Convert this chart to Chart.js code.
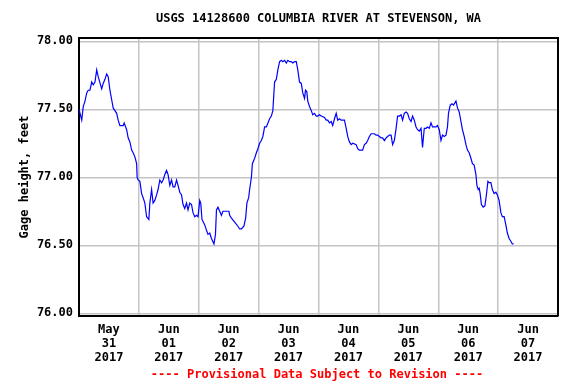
<!DOCTYPE html>
<html>
<head>
<meta charset="utf-8">
<script src="https://cdn.jsdelivr.net/npm/chart.js@4/dist/chart.umd.min.js"></script>
<style>
  body { margin: 0; background: #fff; }
  canvas { display: block; }
</style>
</head>
<body>
<canvas id="gageChart" width="576" height="384"></canvas>
<script>
// hours since 2017-05-31 00:00 and gage height (ft)
const hours = [
  0.0, 1.1, 1.7, 2.4, 3.1, 3.7, 4.4, 5.1, 5.7, 6.4, 7.1, 7.7, 9.1, 9.7, 10.4, 11.1, 11.7, 12.4, 13.1, 13.7,
  15.1, 15.7, 16.4, 17.7, 18.1, 19.1, 19.7, 20.4, 21.1, 21.7, 22.4, 23.1, 23.3, 23.7, 24.4, 25.1, 25.7, 26.4, 27.1, 28.0,
  28.4, 29.1, 29.7, 30.4, 31.1, 31.7, 32.4, 33.1, 33.7, 34.4, 35.1, 35.7, 36.4, 37.1, 37.7, 38.4, 39.1, 39.7, 40.4, 41.1,
  41.7, 42.4, 43.1, 43.7, 44.4, 45.1, 45.7, 46.4, 47.1, 47.7, 48.4, 48.8, 49.3, 50.4, 51.1, 51.7, 52.4, 53.1, 54.1, 54.7,
  55.1, 55.7, 56.4, 57.1, 57.7, 59.1, 60.1, 60.4, 61.1, 62.4, 63.7, 64.4, 65.1, 66.1, 66.8, 67.3, 68.0, 68.4, 69.1, 69.5,
  70.4, 71.1, 71.7, 72.4, 73.1, 73.7, 74.4, 75.1, 76.4, 77.1, 77.7, 78.4, 79.1, 79.7, 80.4, 81.1, 81.7, 82.4, 83.1, 83.7,
  84.4, 85.1, 85.7, 86.4, 87.1, 87.7, 88.4, 89.1, 89.7, 90.4, 90.8, 91.3, 91.7, 92.4, 93.1, 93.7, 94.4, 95.1, 95.7, 96.4,
  97.1, 98.4, 99.1, 99.7, 100.4, 101.1, 101.7, 102.4, 103.1, 103.7, 104.4, 105.1, 106.4, 107.1, 107.7, 108.4, 109.1, 109.7, 111.1, 111.7,
  112.4, 113.1, 113.7, 114.4, 115.1, 115.7, 116.4, 117.1, 118.4, 119.1, 119.7, 120.4, 121.1, 121.7, 122.4, 123.1, 123.7, 124.4, 125.1, 125.7,
  126.4, 127.1, 127.7, 128.4, 129.1, 129.7, 130.4, 131.1, 131.7, 132.4, 133.1, 133.7, 134.4, 135.1, 135.7, 136.4, 137.1, 137.7, 138.4, 139.1,
  139.7, 140.4, 141.1, 141.7, 143.1, 143.7, 144.4, 145.1, 145.7, 146.4, 147.1, 147.7, 148.1, 148.8, 149.5, 150.1, 151.1, 151.7, 152.4, 153.1,
  153.7, 154.4, 155.1, 155.7, 156.4, 157.1, 157.7, 158.4, 159.1, 159.5, 160.0, 160.4, 160.8, 161.3, 162.0, 162.7, 163.3, 163.9, 164.4, 165.1,
  165.7, 166.4, 167.1, 167.7, 168.4, 169.1, 169.7, 170.4, 171.1, 171.7, 172.4, 173.1, 173.7, 174.2
];
const gage = [
  77.50, 77.42, 77.52, 77.56, 77.62, 77.64, 77.64, 77.70, 77.68, 77.70, 77.79, 77.74, 77.65, 77.69, 77.72, 77.76, 77.74, 77.64, 77.57, 77.51,
  77.47, 77.42, 77.38, 77.38, 77.40, 77.35, 77.29, 77.26, 77.20, 77.18, 77.15, 77.10, 77.00, 76.98, 76.97, 76.88, 76.85, 76.81, 76.71, 76.69,
  76.81, 76.91, 76.81, 76.83, 76.87, 76.91, 76.98, 76.96, 76.98, 77.02, 77.05, 77.02, 76.94, 76.98, 76.93, 76.93, 76.98, 76.94, 76.89, 76.87,
  76.80, 76.77, 76.81, 76.76, 76.81, 76.80, 76.74, 76.71, 76.72, 76.71, 76.83, 76.81, 76.69, 76.65, 76.61, 76.58, 76.59, 76.55, 76.51, 76.58,
  76.76, 76.78, 76.75, 76.72, 76.75, 76.75, 76.75, 76.72, 76.70, 76.67, 76.64, 76.62, 76.62, 76.64, 76.70, 76.81, 76.85, 76.91, 77.00, 77.10,
  77.14, 77.18, 77.21, 77.25, 77.27, 77.30, 77.37, 77.37, 77.43, 77.45, 77.49, 77.70, 77.72, 77.79, 77.85, 77.86, 77.85, 77.86, 77.84, 77.86,
  77.85, 77.85, 77.84, 77.85, 77.85, 77.79, 77.70, 77.69, 77.62, 77.58, 77.64, 77.63, 77.56, 77.52, 77.49, 77.46, 77.47, 77.45, 77.45, 77.46,
  77.45, 77.44, 77.42, 77.42, 77.40, 77.41, 77.38, 77.43, 77.47, 77.42, 77.43, 77.42, 77.42, 77.36, 77.30, 77.26, 77.24, 77.25, 77.24, 77.21,
  77.20, 77.20, 77.20, 77.24, 77.25, 77.27, 77.30, 77.32, 77.32, 77.31, 77.31, 77.30, 77.29, 77.29, 77.27, 77.29, 77.30, 77.31, 77.31, 77.24,
  77.27, 77.36, 77.45, 77.45, 77.46, 77.42, 77.47, 77.48, 77.47, 77.43, 77.41, 77.45, 77.42, 77.37, 77.35, 77.34, 77.36, 77.22, 77.36, 77.36,
  77.37, 77.36, 77.40, 77.37, 77.37, 77.38, 77.35, 77.27, 77.31, 77.30, 77.31, 77.37, 77.47, 77.53, 77.54, 77.53, 77.56, 77.51, 77.48, 77.41,
  77.35, 77.30, 77.24, 77.20, 77.18, 77.14, 77.10, 77.09, 77.02, 76.94, 76.91, 76.92, 76.88, 76.80, 76.78, 76.79, 76.87, 76.97, 76.96, 76.96,
  76.91, 76.88, 76.89, 76.87, 76.83, 76.74, 76.71, 76.71, 76.65, 76.59, 76.55, 76.53, 76.51, 76.51
];

const yTicks = [76.00, 76.50, 77.00, 77.50, 78.00];
// one label per day, centred at noon
const dayLabels = [
  ["May", "31", "2017"], ["Jun", "01", "2017"], ["Jun", "02", "2017"], ["Jun", "03", "2017"],
  ["Jun", "04", "2017"], ["Jun", "05", "2017"], ["Jun", "06", "2017"], ["Jun", "07", "2017"]
];

const FONT = "'DejaVu Sans Mono', monospace";

// top/right frame lines and the loose texts
const framePlugin = {
  id: "frame",
  afterDraw(chart) {
    const { ctx, chartArea: a } = chart;
    ctx.save();
    ctx.strokeStyle = "#000";
    ctx.lineWidth = 2;
    ctx.beginPath();
    ctx.moveTo(a.left, a.top);
    ctx.lineTo(a.right, a.top);
    ctx.lineTo(a.right, a.bottom);
    ctx.stroke();

    ctx.fillStyle = "#000";
    ctx.font = "bold 12px " + FONT;
    ctx.textAlign = "center";
    ctx.textBaseline = "middle";
    ctx.fillText("USGS 14128600 COLUMBIA RIVER AT STEVENSON, WA", (a.left + a.right) / 2, 19);

    ctx.fillStyle = "#ff0000";
    ctx.fillText("---- Provisional Data Subject to Revision ----", 317, 375);

    ctx.fillStyle = "#000";
    ctx.translate(25, 177);
    ctx.rotate(-Math.PI / 2);
    ctx.fillText("Gage height, feet", 0, 0);
    ctx.restore();
  }
};

new Chart(document.getElementById("gageChart"), {
  type: "line",
  data: {
    datasets: [{
      data: hours.map((h, i) => ({ x: h, y: gage[i] })),
      borderColor: "#0000ff",
      borderWidth: 1.2,
      pointRadius: 0,
      tension: 0,
      fill: false
    }]
  },
  options: {
    responsive: false,
    animation: false,
    layout: { padding: { left: 0, top: 38, right: 18, bottom: 0 } },
    plugins: { legend: { display: false }, tooltip: { enabled: false } },
    scales: {
      x: {
        type: "linear",
        min: 0,
        max: 192,
        afterBuildTicks(scale) {
          const t = [];
          for (let h = 0; h <= 192; h += 12) t.push({ value: h });
          scale.ticks = t;
        },
        afterFit(scale) { scale.height = 68; },
        grid: {
          drawTicks: false,
          color: (c) => (c.tick && c.tick.value % 24 === 0 ? "#c4c4c4" : "rgba(0,0,0,0)"),
          lineWidth: 1.5
        },
        border: { color: "#000", width: 2 },
        ticks: {
          autoSkip: false,
          maxRotation: 0,
          padding: 7,
          color: "#000",
          font: { family: FONT, size: 12, weight: "bold", lineHeight: 1.17 },
          callback: (v) => (v % 24 === 12 ? dayLabels[(v - 12) / 24] : "")
        }
      },
      y: {
        min: 75.98,
        max: 78.024,
        afterBuildTicks(scale) { scale.ticks = yTicks.map((v) => ({ value: v })); },
        afterFit(scale) { scale.width = 79; },
        grid: { drawTicks: false, color: "#c4c4c4", lineWidth: 1.5 },
        border: { color: "#000", width: 2 },
        ticks: {
          padding: 6,
          color: "#000",
          font: { family: FONT, size: 12, weight: "bold" },
          callback: (v) => Number(v).toFixed(2)
        }
      }
    }
  },
  plugins: [framePlugin]
});
</script>
</body>
</html>
